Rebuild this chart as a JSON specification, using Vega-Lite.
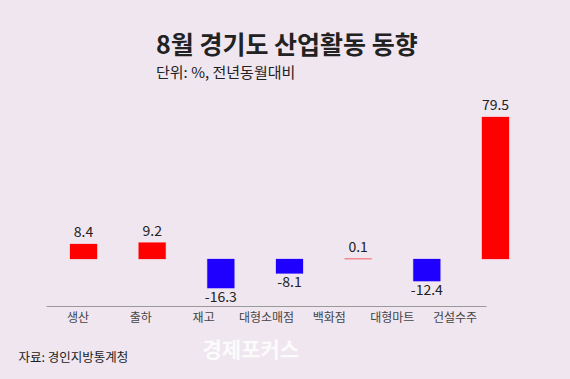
{
  "$schema": "https://vega.github.io/schema/vega-lite/v6.json",
  "autosize": {"type": "none"},
  "width": 570,
  "height": 216,
  "padding": {"top": 90, "bottom": 73, "left": 0, "right": 0},
  "background": "#F0E6F0",
  "config": {"view": {"stroke": null}, "font": "Noto Sans CJK KR"},
  "title": {
    "text": "8월 경기도 산업활동 동향",
    "subtitle": "단위: %, 전년동월대비",
    "anchor": "start",
    "frame": "group",
    "dx": 156,
    "offset": 9,
    "font": "Noto Sans CJK KR",
    "fontSize": 25,
    "fontWeight": "bold",
    "color": "#222222",
    "subtitleFont": "Noto Sans CJK KR",
    "subtitleFontSize": 15,
    "subtitleColor": "#222222",
    "subtitlePadding": 7
  },
  "data": {
    "values": [
      {"category": "생산", "value": 8.4},
      {"category": "출하", "value": 9.2},
      {"category": "재고", "value": -16.3},
      {"category": "대형소매점", "value": -8.1},
      {"category": "백화점", "value": 0.1},
      {"category": "대형마트", "value": -12.4},
      {"category": "건설수주", "value": 79.5}
    ]
  },
  "layer": [
    {
      "encoding": {
        "x": {
          "field": "category",
          "type": "nominal",
          "sort": null,
          "scale": {"range": [70, 509], "paddingInner": 0.606, "paddingOuter": 0},
          "axis": null
        },
        "y": {
          "field": "value",
          "type": "quantitative",
          "scale": {"domain": [-26.3, 94.6], "nice": false, "zero": false},
          "axis": {
            "orient": "left",
            "labels": false,
            "ticks": false,
            "domain": false,
            "grid": false,
            "title": "경제포커스",
            "titleAngle": 0,
            "titleX": 202,
            "titleY": 260,
            "titleAlign": "left",
            "titleBaseline": "middle",
            "titleFont": "Noto Sans CJK KR",
            "titleFontSize": 21,
            "titleFontWeight": "bold",
            "titleColor": "#FFFFFF",
            "titleOpacity": 0.85
          }
        }
      },
      "layer": [
        {
          "mark": {"type": "bar", "strokeWidth": 0.5, "strokeOpacity": 0.5},
          "encoding": {
            "color": {"condition": {"test": "datum.value > 0", "value": "#FF0000"}, "value": "#1F00FF"},
            "stroke": {"condition": {"test": "datum.value > 0", "value": "#FF0000"}, "value": "#1F00FF"}
          }
        },
        {
          "transform": [{"filter": "datum.value > 0"}],
          "mark": {"type": "text", "baseline": "bottom", "dy": -4, "fontSize": 14, "color": "#222222"},
          "encoding": {"text": {"field": "value", "type": "nominal"}}
        },
        {
          "transform": [{"filter": "datum.value < 0"}],
          "mark": {"type": "text", "baseline": "top", "dy": 3, "fontSize": 14, "color": "#222222"},
          "encoding": {"text": {"field": "value", "type": "nominal"}}
        }
      ]
    },
    {
      "mark": {"type": "point", "opacity": 0},
      "encoding": {
        "x": {
          "field": "category",
          "type": "nominal",
          "sort": null,
          "scale": {"range": [46, 486], "paddingInner": 0, "paddingOuter": 0},
          "axis": {
            "orient": "bottom",
            "domainColor": "#9A9A9A",
            "domainWidth": 1,
            "ticks": false,
            "labelAngle": 0,
            "labelPadding": 6,
            "labelFont": "Noto Sans CJK KR",
            "labelFontSize": 12,
            "labelColor": "#444444",
            "title": "자료: 경인지방통계청",
            "titleX": 18,
            "titleY": 51,
            "titleAlign": "left",
            "titleAnchor": null,
            "titleBaseline": "middle",
            "titleFont": "Noto Sans CJK KR",
            "titleFontSize": 12.5,
            "titleFontWeight": "normal",
            "titleColor": "#222222"
          }
        }
      }
    }
  ],
  "resolve": {"scale": {"x": "independent"}, "axis": {"x": "independent"}}
}
